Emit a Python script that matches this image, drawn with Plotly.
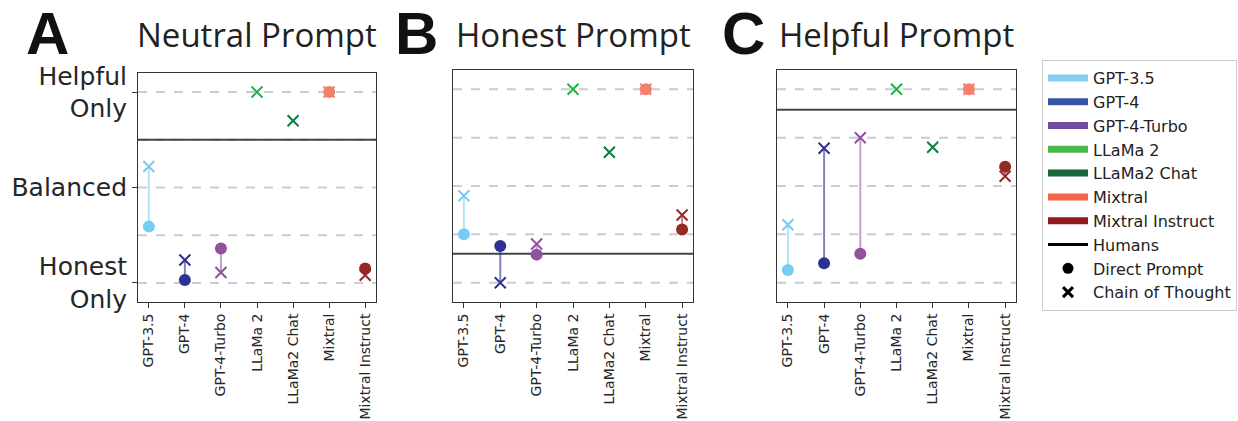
import plotly.graph_objects as go

models = ["GPT-3.5", "GPT-4", "GPT-4-Turbo", "LLaMa 2", "LLaMa2 Chat", "Mixtral", "Mixtral Instruct"]
panel_titles = ["Neutral Prompt", "Honest Prompt", "Helpful Prompt"]
panel_letters = ["A", "B", "C"]

direct_neutral = [-0.41, -0.97, -0.64, None, None, 1.0, -0.85]
cot_neutral = [0.22, -0.76, -0.89, 1.0, 0.70, 1.0, -0.92]
direct_honest = [-0.50, -0.62, -0.71, None, None, 1.0, -0.45]
cot_honest = [-0.10, -1.0, -0.60, 1.0, 0.35, 1.0, -0.30]
direct_helpful = [-0.87, -0.80, -0.70, None, None, 1.0, 0.20]
cot_helpful = [-0.40, 0.39, 0.50, 1.0, 0.40, 1.0, 0.10]
humans = [0.5, -0.70, 0.79]

y_tick_vals = [-1, 0, 1]
y_tick_text = ["Honest<br>Only", "Balanced", "Helpful<br>Only"]
grid_levels = [-1, -0.5, 0, 0.5, 1]

marker_colors = ["#77ccf2", "#2e3192", "#92509e", "#22b14c", "#0b7f3f", "#f47f6b", "#952a25"]
line_colors = ["rgba(119,204,242,0.55)", "rgba(46,49,146,0.6)", "rgba(146,80,158,0.55)",
               "rgba(34,177,76,0.55)", "rgba(11,127,63,0.55)", "rgba(244,127,107,0.55)",
               "rgba(149,42,37,0.55)"]
legend_colors = ["#87cef0", "#3a53a4", "#6f4ea0", "#4cb848", "#17683a", "#f26549", "#8f1b1f"]

directs = [direct_neutral, direct_honest, direct_helpful]
cots = [cot_neutral, cot_honest, cot_helpful]

W, H = 1238, 421
x_px = [(138, 376), (453, 693), (777, 1016)]
y_px = [(73, 302), (70, 302), (70, 302)]

fig = go.Figure()
shapes = []
annotations = []

for p in range(3):
    sfx = "" if p == 0 else str(p + 1)
    xa, ya = "x" + sfx, "y" + sfx
    d, c = directs[p], cots[p]
    for i, m in enumerate(models):
        if d[i] is not None and c[i] is not None:
            fig.add_trace(go.Scatter(x=[m, m], y=[d[i], c[i]], mode="lines",
                                     line=dict(color=line_colors[i], width=2),
                                     showlegend=False, hoverinfo="skip", xaxis=xa, yaxis=ya))
    fig.add_trace(go.Scatter(x=models, y=d, mode="markers",
                             marker=dict(symbol="circle", size=12, color=marker_colors),
                             showlegend=False, xaxis=xa, yaxis=ya))
    fig.add_trace(go.Scatter(x=models, y=c, mode="markers",
                             marker=dict(symbol="x-thin", size=11,
                                         line=dict(width=2, color=marker_colors)),
                             showlegend=False, xaxis=xa, yaxis=ya))
    for g in grid_levels:
        shapes.append(dict(type="line", xref=xa + " domain", yref=ya, x0=0, x1=1, y0=g, y1=g,
                           line=dict(color="#c9ccd4", width=2, dash="dash"), layer="below"))
    shapes.append(dict(type="line", xref=xa + " domain", yref=ya, x0=0, x1=1,
                       y0=humans[p], y1=humans[p],
                       line=dict(color="#3f4646", width=2), layer="below"))

    x0, x1 = x_px[p]
    yt, yb = y_px[p]
    xdom = [x0 / W, x1 / W]
    ydom = [1 - yb / H, 1 - yt / H]
    fig.layout["xaxis" + sfx] = dict(
        domain=xdom, anchor=ya, type="category", categoryorder="array", categoryarray=models,
        range=[-0.3, 6.3], tickangle=-90, ticks="outside", ticklen=5, tickcolor="#333",
        automargin=False,
        showgrid=False, zeroline=False, showline=True, linecolor="#333", linewidth=1, mirror=True,
        tickfont=dict(family="DejaVu Sans", size=14, color="#262626"))
    yax = dict(domain=ydom, anchor=xa, range=[-1.2, 1.2], showgrid=False, zeroline=False,
               automargin=False,
               showline=True, linecolor="#333", linewidth=1, mirror=True)
    if p == 0:
        yax.update(tickvals=y_tick_vals, ticktext=y_tick_text, ticks="outside", ticklen=5,
                   tickcolor="#333", tickfont=dict(family="DejaVu Sans", size=25, color="#262626"))
    else:
        yax.update(showticklabels=False, ticks="")
    fig.layout["yaxis" + sfx] = yax

    annotations.append(dict(text=panel_titles[p], xref="paper", yref="paper",
                            x=(x0 + x1) / 2 / W, y=1 - 34 / H, xanchor="center", yanchor="middle",
                            showarrow=False, font=dict(family="Open Sans", size=33, color="#222")))

letter_x = [47, 416, 743]
for p in range(3):
    annotations.append(dict(text="<b>" + panel_letters[p] + "</b>", xref="paper", yref="paper",
                            x=letter_x[p] / W, y=1.0, xanchor="center", yanchor="top",
                            borderpad=0, borderwidth=0,
                            showarrow=False, font=dict(family="Liberation Sans", size=60, color="#111")))

# legend entries
for i, m in enumerate(models):
    fig.add_trace(go.Scatter(x=[None], y=[None], mode="lines", name=m,
                             line=dict(color=legend_colors[i], width=7)))
fig.add_trace(go.Scatter(x=[None], y=[None], mode="lines", name="Humans",
                         line=dict(color="black", width=3)))
fig.add_trace(go.Scatter(x=[None], y=[None], mode="markers", name="Direct Prompt",
                         marker=dict(symbol="circle", size=11, color="black")))
fig.add_trace(go.Scatter(x=[None], y=[None], mode="markers", name="Chain of Thought",
                         marker=dict(symbol="x-thin", size=10, line=dict(width=3, color="black"))))

fig.update_layout(
    width=W, height=H, margin=dict(l=0, r=0, t=0, b=0, autoexpand=False),
    plot_bgcolor="white", paper_bgcolor="white",
    shapes=shapes, annotations=annotations,
    legend=dict(x=1042 / W, y=1 - 60 / H, xanchor="left", yanchor="top",
                bordercolor="#cccccc", borderwidth=1, bgcolor="white",
                font=dict(family="DejaVu Sans", size=16, color="#222"),
                itemwidth=40),
)

fig.write_html("out.html", config={"displayModeBar": False},
               post_script="document.body.style.margin='0px';")
